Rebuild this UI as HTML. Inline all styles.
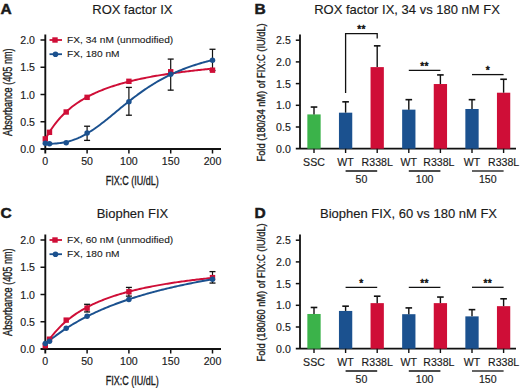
<!DOCTYPE html>
<html><head><meta charset="utf-8"><style>
html,body{margin:0;padding:0;background:#fff;}
svg{display:block;}
text{font-family:"Liberation Sans",sans-serif;fill:#1a1a1a;stroke:#1a1a1a;stroke-width:0.15px;}
</style></head><body>
<svg width="520" height="388" viewBox="0 0 520 388">
<text x="0.60" y="13.90" font-size="15.5" text-anchor="start" font-weight="700" style="stroke-width:0.5px">A</text>
<text x="132.40" y="14.40" font-size="13" text-anchor="middle" font-weight="400" >ROX factor IX</text>
<line x1="45.30" y1="34.50" x2="45.30" y2="153.50" stroke="#111" stroke-width="1.9"/>
<line x1="40.50" y1="149.00" x2="221.00" y2="149.00" stroke="#111" stroke-width="1.9"/>
<line x1="40.50" y1="121.75" x2="45.30" y2="121.75" stroke="#111" stroke-width="1.5"/>
<line x1="40.50" y1="94.50" x2="45.30" y2="94.50" stroke="#111" stroke-width="1.5"/>
<line x1="40.50" y1="67.25" x2="45.30" y2="67.25" stroke="#111" stroke-width="1.5"/>
<line x1="40.50" y1="40.00" x2="45.30" y2="40.00" stroke="#111" stroke-width="1.5"/>
<text transform="translate(35.00,153.00) scale(1.06,1)" font-size="10" text-anchor="end" font-weight="400" >0.0</text>
<text transform="translate(35.00,125.75) scale(1.06,1)" font-size="10" text-anchor="end" font-weight="400" >0.5</text>
<text transform="translate(35.00,98.50) scale(1.06,1)" font-size="10" text-anchor="end" font-weight="400" >1.0</text>
<text transform="translate(35.00,71.25) scale(1.06,1)" font-size="10" text-anchor="end" font-weight="400" >1.5</text>
<text transform="translate(35.00,44.00) scale(1.06,1)" font-size="10" text-anchor="end" font-weight="400" >2.0</text>
<line x1="87.10" y1="149.00" x2="87.10" y2="153.50" stroke="#111" stroke-width="1.5"/>
<line x1="128.90" y1="149.00" x2="128.90" y2="153.50" stroke="#111" stroke-width="1.5"/>
<line x1="170.70" y1="149.00" x2="170.70" y2="153.50" stroke="#111" stroke-width="1.5"/>
<line x1="212.50" y1="149.00" x2="212.50" y2="153.50" stroke="#111" stroke-width="1.5"/>
<text transform="translate(45.30,165.00) scale(1.06,1)" font-size="10" text-anchor="middle" font-weight="400" >0</text>
<text transform="translate(87.10,165.00) scale(1.06,1)" font-size="10" text-anchor="middle" font-weight="400" >50</text>
<text transform="translate(128.90,165.00) scale(1.06,1)" font-size="10" text-anchor="middle" font-weight="400" >100</text>
<text transform="translate(170.70,165.00) scale(1.06,1)" font-size="10" text-anchor="middle" font-weight="400" >150</text>
<text transform="translate(212.50,165.00) scale(1.06,1)" font-size="10" text-anchor="middle" font-weight="400" >200</text>
<text transform="translate(132.30,184.60) scale(0.71,1)" font-size="12.7" text-anchor="middle" style="stroke-width:0.35px">FIX:C (IU/dL)</text>
<text transform="translate(12.40,92.20) rotate(-90) scale(0.7,1)" font-size="13" text-anchor="middle" style="stroke-width:0.35px">Absorbance (405 nm)</text>
<line x1="49.50" y1="40.00" x2="62.00" y2="40.00" stroke="#cf0e37" stroke-width="1.8"/>
<rect x="52.30" y="37.30" width="5.40" height="5.40" fill="#cf0e37"/>
<text transform="translate(67.00,43.20) scale(1.13,1)" font-size="9" text-anchor="start" font-weight="400" style="stroke-width:0.1px">FX, 34 nM (unmodified)</text>
<line x1="49.50" y1="54.20" x2="62.00" y2="54.20" stroke="#1b518f" stroke-width="1.8"/>
<circle cx="55.5" cy="54.2" r="2.8" fill="#1b518f"/>
<text transform="translate(67.00,57.40) scale(1.13,1)" font-size="9" text-anchor="start" font-weight="400" style="stroke-width:0.1px">FX, 180 nM</text>
<line x1="87.10" y1="140.39" x2="87.10" y2="126.22" stroke="#111" stroke-width="1.2"/>
<line x1="84.10" y1="140.39" x2="90.10" y2="140.39" stroke="#111" stroke-width="1.3"/>
<line x1="84.10" y1="126.22" x2="90.10" y2="126.22" stroke="#111" stroke-width="1.3"/>
<line x1="128.90" y1="115.21" x2="128.90" y2="87.42" stroke="#111" stroke-width="1.2"/>
<line x1="125.90" y1="115.21" x2="131.90" y2="115.21" stroke="#111" stroke-width="1.3"/>
<line x1="125.90" y1="87.42" x2="131.90" y2="87.42" stroke="#111" stroke-width="1.3"/>
<line x1="170.70" y1="90.14" x2="170.70" y2="59.08" stroke="#111" stroke-width="1.2"/>
<line x1="167.70" y1="90.14" x2="173.70" y2="90.14" stroke="#111" stroke-width="1.3"/>
<line x1="167.70" y1="59.08" x2="173.70" y2="59.08" stroke="#111" stroke-width="1.3"/>
<line x1="212.50" y1="70.52" x2="212.50" y2="49.27" stroke="#111" stroke-width="1.2"/>
<line x1="209.50" y1="70.52" x2="215.50" y2="70.52" stroke="#111" stroke-width="1.3"/>
<line x1="209.50" y1="49.27" x2="215.50" y2="49.27" stroke="#111" stroke-width="1.3"/>
<path d="M45.30,139.27 L46.71,136.70 L48.11,134.27 L49.52,131.97 L50.92,129.78 L52.33,127.71 L53.73,125.74 L55.14,123.87 L56.54,122.08 L57.95,120.38 L59.35,118.76 L60.76,117.20 L62.16,115.71 L63.57,114.29 L64.97,112.92 L66.38,111.61 L67.78,110.35 L69.19,109.15 L70.59,107.98 L72.00,106.86 L73.40,105.78 L74.81,104.74 L76.21,103.74 L77.62,102.77 L79.02,101.84 L80.43,100.94 L81.83,100.06 L83.24,99.22 L84.64,98.40 L86.05,97.61 L87.45,96.84 L88.86,96.10 L90.26,95.38 L91.67,94.68 L93.07,94.00 L94.48,93.34 L95.88,92.70 L97.29,92.08 L98.69,91.47 L100.10,90.88 L101.50,90.31 L102.91,89.75 L104.31,89.20 L105.72,88.68 L107.12,88.16 L108.53,87.66 L109.93,87.17 L111.34,86.69 L112.74,86.22 L114.15,85.76 L115.55,85.32 L116.96,84.89 L118.36,84.46 L119.77,84.05 L121.17,83.64 L122.58,83.24 L123.98,82.86 L125.39,82.48 L126.79,82.11 L128.20,81.74 L129.60,81.39 L131.01,81.04 L132.41,80.70 L133.82,80.37 L135.22,80.04 L136.63,79.72 L138.03,79.41 L139.44,79.10 L140.84,78.80 L142.25,78.50 L143.65,78.21 L145.06,77.93 L146.46,77.65 L147.87,77.37 L149.27,77.11 L150.68,76.84 L152.08,76.58 L153.49,76.33 L154.89,76.08 L156.30,75.83 L157.70,75.59 L159.11,75.35 L160.51,75.12 L161.92,74.89 L163.32,74.67 L164.73,74.45 L166.13,74.23 L167.54,74.01 L168.94,73.80 L170.35,73.60 L171.75,73.39 L173.16,73.19 L174.56,72.99 L175.97,72.80 L177.37,72.61 L178.78,72.42 L180.18,72.23 L181.59,72.05 L182.99,71.87 L184.40,71.69 L185.80,71.52 L187.21,71.35 L188.61,71.18 L190.02,71.01 L191.42,70.85 L192.83,70.68 L194.23,70.52 L195.64,70.37 L197.04,70.21 L198.45,70.06 L199.85,69.91 L201.26,69.76 L202.66,69.61 L204.07,69.46 L205.47,69.32 L206.88,69.18 L208.28,69.04 L209.69,68.90 L211.09,68.77 L212.50,68.63" fill="none" stroke="#cf0e37" stroke-width="1.95"/>
<path d="M45.30,143.76 L46.71,143.76 L48.11,143.75 L49.52,143.73 L50.92,143.70 L52.33,143.66 L53.73,143.60 L55.14,143.52 L56.54,143.41 L57.95,143.29 L59.35,143.14 L60.76,142.96 L62.16,142.75 L63.57,142.51 L64.97,142.25 L66.38,141.95 L67.78,141.61 L69.19,141.25 L70.59,140.84 L72.00,140.41 L73.40,139.94 L74.81,139.43 L76.21,138.89 L77.62,138.31 L79.02,137.69 L80.43,137.04 L81.83,136.35 L83.24,135.63 L84.64,134.88 L86.05,134.09 L87.45,133.27 L88.86,132.42 L90.26,131.54 L91.67,130.63 L93.07,129.70 L94.48,128.74 L95.88,127.75 L97.29,126.74 L98.69,125.71 L100.10,124.66 L101.50,123.59 L102.91,122.50 L104.31,121.40 L105.72,120.29 L107.12,119.16 L108.53,118.03 L109.93,116.88 L111.34,115.73 L112.74,114.58 L114.15,113.42 L115.55,112.26 L116.96,111.10 L118.36,109.94 L119.77,108.78 L121.17,107.62 L122.58,106.47 L123.98,105.33 L125.39,104.19 L126.79,103.06 L128.20,101.94 L129.60,100.83 L131.01,99.73 L132.41,98.64 L133.82,97.56 L135.22,96.49 L136.63,95.44 L138.03,94.40 L139.44,93.38 L140.84,92.37 L142.25,91.37 L143.65,90.39 L145.06,89.43 L146.46,88.48 L147.87,87.55 L149.27,86.63 L150.68,85.73 L152.08,84.84 L153.49,83.97 L154.89,83.12 L156.30,82.28 L157.70,81.46 L159.11,80.66 L160.51,79.87 L161.92,79.10 L163.32,78.34 L164.73,77.60 L166.13,76.87 L167.54,76.16 L168.94,75.46 L170.35,74.78 L171.75,74.12 L173.16,73.46 L174.56,72.82 L175.97,72.20 L177.37,71.59 L178.78,70.99 L180.18,70.41 L181.59,69.83 L182.99,69.28 L184.40,68.73 L185.80,68.20 L187.21,67.67 L188.61,67.16 L190.02,66.66 L191.42,66.18 L192.83,65.70 L194.23,65.23 L195.64,64.78 L197.04,64.33 L198.45,63.90 L199.85,63.47 L201.26,63.05 L202.66,62.65 L204.07,62.25 L205.47,61.86 L206.88,61.48 L208.28,61.11 L209.69,60.75 L211.09,60.39 L212.50,60.05" fill="none" stroke="#1b518f" stroke-width="1.95"/>
<rect x="42.60" y="136.22" width="5.40" height="5.40" fill="#cf0e37"/>
<rect x="46.78" y="129.62" width="5.40" height="5.40" fill="#cf0e37"/>
<rect x="63.50" y="109.29" width="5.40" height="5.40" fill="#cf0e37"/>
<rect x="84.40" y="94.63" width="5.40" height="5.40" fill="#cf0e37"/>
<rect x="126.20" y="78.61" width="5.40" height="5.40" fill="#cf0e37"/>
<rect x="168.00" y="69.07" width="5.40" height="5.40" fill="#cf0e37"/>
<rect x="209.80" y="67.49" width="5.40" height="5.40" fill="#cf0e37"/>
<circle cx="45.30" cy="143.28" r="2.75" fill="#1b518f"/>
<circle cx="49.48" cy="143.77" r="2.75" fill="#1b518f"/>
<circle cx="66.20" cy="142.79" r="2.75" fill="#1b518f"/>
<circle cx="87.10" cy="132.98" r="2.75" fill="#1b518f"/>
<circle cx="128.90" cy="101.69" r="2.75" fill="#1b518f"/>
<circle cx="170.70" cy="74.33" r="2.75" fill="#1b518f"/>
<circle cx="212.50" cy="60.17" r="2.75" fill="#1b518f"/>
<text x="0.60" y="217.90" font-size="15.5" text-anchor="start" font-weight="700" style="stroke-width:0.5px">C</text>
<text x="132.40" y="218.40" font-size="13" text-anchor="middle" font-weight="400" >Biophen FIX</text>
<line x1="45.30" y1="234.50" x2="45.30" y2="353.50" stroke="#111" stroke-width="1.9"/>
<line x1="40.50" y1="349.00" x2="221.00" y2="349.00" stroke="#111" stroke-width="1.9"/>
<line x1="40.50" y1="321.75" x2="45.30" y2="321.75" stroke="#111" stroke-width="1.5"/>
<line x1="40.50" y1="294.50" x2="45.30" y2="294.50" stroke="#111" stroke-width="1.5"/>
<line x1="40.50" y1="267.25" x2="45.30" y2="267.25" stroke="#111" stroke-width="1.5"/>
<line x1="40.50" y1="240.00" x2="45.30" y2="240.00" stroke="#111" stroke-width="1.5"/>
<text transform="translate(35.00,353.00) scale(1.06,1)" font-size="10" text-anchor="end" font-weight="400" >0.0</text>
<text transform="translate(35.00,325.75) scale(1.06,1)" font-size="10" text-anchor="end" font-weight="400" >0.5</text>
<text transform="translate(35.00,298.50) scale(1.06,1)" font-size="10" text-anchor="end" font-weight="400" >1.0</text>
<text transform="translate(35.00,271.25) scale(1.06,1)" font-size="10" text-anchor="end" font-weight="400" >1.5</text>
<text transform="translate(35.00,244.00) scale(1.06,1)" font-size="10" text-anchor="end" font-weight="400" >2.0</text>
<line x1="87.10" y1="349.00" x2="87.10" y2="353.50" stroke="#111" stroke-width="1.5"/>
<line x1="128.90" y1="349.00" x2="128.90" y2="353.50" stroke="#111" stroke-width="1.5"/>
<line x1="170.70" y1="349.00" x2="170.70" y2="353.50" stroke="#111" stroke-width="1.5"/>
<line x1="212.50" y1="349.00" x2="212.50" y2="353.50" stroke="#111" stroke-width="1.5"/>
<text transform="translate(45.30,365.00) scale(1.06,1)" font-size="10" text-anchor="middle" font-weight="400" >0</text>
<text transform="translate(87.10,365.00) scale(1.06,1)" font-size="10" text-anchor="middle" font-weight="400" >50</text>
<text transform="translate(128.90,365.00) scale(1.06,1)" font-size="10" text-anchor="middle" font-weight="400" >100</text>
<text transform="translate(170.70,365.00) scale(1.06,1)" font-size="10" text-anchor="middle" font-weight="400" >150</text>
<text transform="translate(212.50,365.00) scale(1.06,1)" font-size="10" text-anchor="middle" font-weight="400" >200</text>
<text transform="translate(132.30,384.60) scale(0.71,1)" font-size="12.7" text-anchor="middle" style="stroke-width:0.35px">FIX:C (IU/dL)</text>
<text transform="translate(12.40,292.20) rotate(-90) scale(0.7,1)" font-size="13" text-anchor="middle" style="stroke-width:0.35px">Absorbance (405 nm)</text>
<line x1="49.50" y1="240.00" x2="62.00" y2="240.00" stroke="#cf0e37" stroke-width="1.8"/>
<rect x="52.30" y="237.30" width="5.40" height="5.40" fill="#cf0e37"/>
<text transform="translate(67.00,243.20) scale(1.13,1)" font-size="9" text-anchor="start" font-weight="400" style="stroke-width:0.1px">FX, 60 nM (unmodified)</text>
<line x1="49.50" y1="254.20" x2="62.00" y2="254.20" stroke="#1b518f" stroke-width="1.8"/>
<circle cx="55.5" cy="254.2" r="2.8" fill="#1b518f"/>
<text transform="translate(67.00,257.40) scale(1.13,1)" font-size="9" text-anchor="start" font-weight="400" style="stroke-width:0.1px">FX, 180 nM</text>
<line x1="87.10" y1="311.94" x2="87.10" y2="304.31" stroke="#111" stroke-width="1.2"/>
<line x1="84.10" y1="311.94" x2="90.10" y2="311.94" stroke="#111" stroke-width="1.3"/>
<line x1="84.10" y1="304.31" x2="90.10" y2="304.31" stroke="#111" stroke-width="1.3"/>
<line x1="128.90" y1="296.13" x2="128.90" y2="287.42" stroke="#111" stroke-width="1.2"/>
<line x1="125.90" y1="296.13" x2="131.90" y2="296.13" stroke="#111" stroke-width="1.3"/>
<line x1="125.90" y1="287.42" x2="131.90" y2="287.42" stroke="#111" stroke-width="1.3"/>
<line x1="212.50" y1="283.06" x2="212.50" y2="271.61" stroke="#111" stroke-width="1.2"/>
<line x1="209.50" y1="283.06" x2="215.50" y2="283.06" stroke="#111" stroke-width="1.3"/>
<line x1="209.50" y1="271.61" x2="215.50" y2="271.61" stroke="#111" stroke-width="1.3"/>
<path d="M45.30,345.41 L46.71,343.24 L48.11,341.18 L49.52,339.21 L50.92,337.32 L52.33,335.52 L53.73,333.80 L55.14,332.15 L56.54,330.56 L57.95,329.04 L59.35,327.58 L60.76,326.17 L62.16,324.82 L63.57,323.52 L64.97,322.26 L66.38,321.05 L67.78,319.89 L69.19,318.76 L70.59,317.67 L72.00,316.62 L73.40,315.60 L74.81,314.62 L76.21,313.66 L77.62,312.74 L79.02,311.84 L80.43,310.98 L81.83,310.13 L83.24,309.32 L84.64,308.52 L86.05,307.75 L87.45,307.00 L88.86,306.27 L90.26,305.57 L91.67,304.88 L93.07,304.21 L94.48,303.55 L95.88,302.92 L97.29,302.30 L98.69,301.69 L100.10,301.11 L101.50,300.53 L102.91,299.97 L104.31,299.42 L105.72,298.89 L107.12,298.37 L108.53,297.86 L109.93,297.36 L111.34,296.88 L112.74,296.40 L114.15,295.94 L115.55,295.48 L116.96,295.04 L118.36,294.60 L119.77,294.18 L121.17,293.76 L122.58,293.35 L123.98,292.96 L125.39,292.56 L126.79,292.18 L128.20,291.80 L129.60,291.44 L131.01,291.08 L132.41,290.72 L133.82,290.37 L135.22,290.03 L136.63,289.70 L138.03,289.37 L139.44,289.05 L140.84,288.73 L142.25,288.42 L143.65,288.12 L145.06,287.82 L146.46,287.53 L147.87,287.24 L149.27,286.95 L150.68,286.68 L152.08,286.40 L153.49,286.13 L154.89,285.87 L156.30,285.61 L157.70,285.35 L159.11,285.10 L160.51,284.85 L161.92,284.61 L163.32,284.37 L164.73,284.13 L166.13,283.90 L167.54,283.67 L168.94,283.45 L170.35,283.22 L171.75,283.01 L173.16,282.79 L174.56,282.58 L175.97,282.37 L177.37,282.16 L178.78,281.96 L180.18,281.76 L181.59,281.57 L182.99,281.37 L184.40,281.18 L185.80,280.99 L187.21,280.81 L188.61,280.62 L190.02,280.44 L191.42,280.27 L192.83,280.09 L194.23,279.92 L195.64,279.75 L197.04,279.58 L198.45,279.41 L199.85,279.25 L201.26,279.09 L202.66,278.93 L204.07,278.77 L205.47,278.61 L206.88,278.46 L208.28,278.31 L209.69,278.16 L211.09,278.01 L212.50,277.86" fill="none" stroke="#cf0e37" stroke-width="1.95"/>
<path d="M45.30,344.12 L46.71,342.91 L48.11,341.73 L49.52,340.58 L50.92,339.44 L52.33,338.33 L53.73,337.24 L55.14,336.17 L56.54,335.12 L57.95,334.10 L59.35,333.09 L60.76,332.10 L62.16,331.13 L63.57,330.17 L64.97,329.23 L66.38,328.31 L67.78,327.41 L69.19,326.52 L70.59,325.65 L72.00,324.79 L73.40,323.95 L74.81,323.12 L76.21,322.31 L77.62,321.51 L79.02,320.72 L80.43,319.95 L81.83,319.18 L83.24,318.44 L84.64,317.70 L86.05,316.97 L87.45,316.26 L88.86,315.56 L90.26,314.86 L91.67,314.18 L93.07,313.51 L94.48,312.85 L95.88,312.20 L97.29,311.56 L98.69,310.93 L100.10,310.31 L101.50,309.69 L102.91,309.09 L104.31,308.49 L105.72,307.91 L107.12,307.33 L108.53,306.76 L109.93,306.20 L111.34,305.64 L112.74,305.10 L114.15,304.56 L115.55,304.03 L116.96,303.50 L118.36,302.98 L119.77,302.47 L121.17,301.97 L122.58,301.47 L123.98,300.98 L125.39,300.50 L126.79,300.02 L128.20,299.55 L129.60,299.08 L131.01,298.62 L132.41,298.17 L133.82,297.72 L135.22,297.28 L136.63,296.84 L138.03,296.41 L139.44,295.98 L140.84,295.56 L142.25,295.14 L143.65,294.73 L145.06,294.33 L146.46,293.92 L147.87,293.53 L149.27,293.13 L150.68,292.75 L152.08,292.36 L153.49,291.98 L154.89,291.61 L156.30,291.24 L157.70,290.87 L159.11,290.51 L160.51,290.16 L161.92,289.80 L163.32,289.45 L164.73,289.11 L166.13,288.76 L167.54,288.42 L168.94,288.09 L170.35,287.76 L171.75,287.43 L173.16,287.11 L174.56,286.79 L175.97,286.47 L177.37,286.16 L178.78,285.84 L180.18,285.54 L181.59,285.23 L182.99,284.93 L184.40,284.63 L185.80,284.34 L187.21,284.05 L188.61,283.76 L190.02,283.47 L191.42,283.19 L192.83,282.91 L194.23,282.63 L195.64,282.35 L197.04,282.08 L198.45,281.81 L199.85,281.55 L201.26,281.28 L202.66,281.02 L204.07,280.76 L205.47,280.50 L206.88,280.25 L208.28,280.00 L209.69,279.75 L211.09,279.50 L212.50,279.25" fill="none" stroke="#1b518f" stroke-width="1.95"/>
<rect x="42.60" y="343.03" width="5.40" height="5.40" fill="#cf0e37"/>
<rect x="46.78" y="336.49" width="5.40" height="5.40" fill="#cf0e37"/>
<rect x="63.50" y="317.42" width="5.40" height="5.40" fill="#cf0e37"/>
<rect x="84.40" y="305.43" width="5.40" height="5.40" fill="#cf0e37"/>
<rect x="126.20" y="289.07" width="5.40" height="5.40" fill="#cf0e37"/>
<rect x="209.80" y="274.91" width="5.40" height="5.40" fill="#cf0e37"/>
<circle cx="45.30" cy="343.55" r="2.75" fill="#1b518f"/>
<circle cx="49.48" cy="341.37" r="2.75" fill="#1b518f"/>
<circle cx="66.20" cy="328.29" r="2.75" fill="#1b518f"/>
<circle cx="87.10" cy="316.30" r="2.75" fill="#1b518f"/>
<circle cx="128.90" cy="299.40" r="2.75" fill="#1b518f"/>
<circle cx="212.50" cy="279.24" r="2.75" fill="#1b518f"/>
<text x="254.40" y="13.90" font-size="15.5" text-anchor="start" font-weight="700" style="stroke-width:0.5px">B</text>
<text x="407.00" y="14.40" font-size="13" text-anchor="middle" font-weight="400" >ROX factor IX, 34 vs 180 nM FX</text>
<line x1="300.00" y1="34.50" x2="300.00" y2="148.70" stroke="#111" stroke-width="1.8"/>
<line x1="295.80" y1="148.70" x2="516.00" y2="148.70" stroke="#111" stroke-width="1.8"/>
<line x1="295.80" y1="127.00" x2="300.00" y2="127.00" stroke="#111" stroke-width="1.5"/>
<line x1="295.80" y1="105.30" x2="300.00" y2="105.30" stroke="#111" stroke-width="1.5"/>
<line x1="295.80" y1="83.60" x2="300.00" y2="83.60" stroke="#111" stroke-width="1.5"/>
<line x1="295.80" y1="61.90" x2="300.00" y2="61.90" stroke="#111" stroke-width="1.5"/>
<line x1="295.80" y1="40.20" x2="300.00" y2="40.20" stroke="#111" stroke-width="1.5"/>
<text transform="translate(290.80,152.70) scale(1.06,1)" font-size="10" text-anchor="end" font-weight="400" >0.0</text>
<text transform="translate(290.80,131.00) scale(1.06,1)" font-size="10" text-anchor="end" font-weight="400" >0.5</text>
<text transform="translate(290.80,109.30) scale(1.06,1)" font-size="10" text-anchor="end" font-weight="400" >1.0</text>
<text transform="translate(290.80,87.60) scale(1.06,1)" font-size="10" text-anchor="end" font-weight="400" >1.5</text>
<text transform="translate(290.80,65.90) scale(1.06,1)" font-size="10" text-anchor="end" font-weight="400" >2.0</text>
<text transform="translate(290.80,44.20) scale(1.06,1)" font-size="10" text-anchor="end" font-weight="400" >2.5</text>
<text transform="translate(265.30,92.40) rotate(-90) scale(0.8,1)" font-size="11.6" text-anchor="middle" style="stroke-width:0.35px">Fold (180/34 nM) of FIX:C (IU/dL)</text>
<rect x="307.35" y="114.41" width="13.30" height="34.29" fill="#3bb34a"/>
<line x1="314.00" y1="114.41" x2="314.00" y2="107.04" stroke="#111" stroke-width="1.4"/>
<line x1="310.70" y1="107.04" x2="317.30" y2="107.04" stroke="#111" stroke-width="1.6"/>
<line x1="314.00" y1="148.70" x2="314.00" y2="153.00" stroke="#111" stroke-width="1.4"/>
<text transform="translate(314.00,165.50) scale(1.06,1)" font-size="10" text-anchor="middle" font-weight="400" >SSC</text>
<rect x="338.95" y="112.68" width="13.30" height="36.02" fill="#1b518f"/>
<line x1="345.60" y1="112.68" x2="345.60" y2="101.83" stroke="#111" stroke-width="1.4"/>
<line x1="342.30" y1="101.83" x2="348.90" y2="101.83" stroke="#111" stroke-width="1.6"/>
<line x1="345.60" y1="148.70" x2="345.60" y2="153.00" stroke="#111" stroke-width="1.4"/>
<text transform="translate(345.60,165.50) scale(1.06,1)" font-size="10" text-anchor="middle" font-weight="400" >WT</text>
<rect x="370.55" y="67.11" width="13.30" height="81.59" fill="#cf0e37"/>
<line x1="377.20" y1="67.11" x2="377.20" y2="45.84" stroke="#111" stroke-width="1.4"/>
<line x1="373.90" y1="45.84" x2="380.50" y2="45.84" stroke="#111" stroke-width="1.6"/>
<line x1="377.20" y1="148.70" x2="377.20" y2="153.00" stroke="#111" stroke-width="1.4"/>
<text transform="translate(377.20,165.50) scale(1.06,1)" font-size="10" text-anchor="middle" font-weight="400" >R338L</text>
<rect x="402.15" y="109.64" width="13.30" height="39.06" fill="#1b518f"/>
<line x1="408.80" y1="109.64" x2="408.80" y2="99.66" stroke="#111" stroke-width="1.4"/>
<line x1="405.50" y1="99.66" x2="412.10" y2="99.66" stroke="#111" stroke-width="1.6"/>
<line x1="408.80" y1="148.70" x2="408.80" y2="153.00" stroke="#111" stroke-width="1.4"/>
<text transform="translate(408.80,165.50) scale(1.06,1)" font-size="10" text-anchor="middle" font-weight="400" >WT</text>
<rect x="433.75" y="84.03" width="13.30" height="64.67" fill="#cf0e37"/>
<line x1="440.40" y1="84.03" x2="440.40" y2="74.92" stroke="#111" stroke-width="1.4"/>
<line x1="437.10" y1="74.92" x2="443.70" y2="74.92" stroke="#111" stroke-width="1.6"/>
<line x1="440.40" y1="148.70" x2="440.40" y2="153.00" stroke="#111" stroke-width="1.4"/>
<text transform="translate(438.90,165.50) scale(1.06,1)" font-size="10" text-anchor="middle" font-weight="400" >R338L</text>
<rect x="465.35" y="108.99" width="13.30" height="39.71" fill="#1b518f"/>
<line x1="472.00" y1="108.99" x2="472.00" y2="99.66" stroke="#111" stroke-width="1.4"/>
<line x1="468.70" y1="99.66" x2="475.30" y2="99.66" stroke="#111" stroke-width="1.6"/>
<line x1="472.00" y1="148.70" x2="472.00" y2="153.00" stroke="#111" stroke-width="1.4"/>
<text transform="translate(472.00,165.50) scale(1.06,1)" font-size="10" text-anchor="middle" font-weight="400" >WT</text>
<rect x="496.95" y="92.71" width="13.30" height="55.99" fill="#cf0e37"/>
<line x1="503.60" y1="92.71" x2="503.60" y2="79.26" stroke="#111" stroke-width="1.4"/>
<line x1="500.30" y1="79.26" x2="506.90" y2="79.26" stroke="#111" stroke-width="1.6"/>
<line x1="503.60" y1="148.70" x2="503.60" y2="153.00" stroke="#111" stroke-width="1.4"/>
<text transform="translate(503.60,165.50) scale(1.06,1)" font-size="10" text-anchor="middle" font-weight="400" >R338L</text>
<line x1="345.60" y1="171.00" x2="377.20" y2="171.00" stroke="#111" stroke-width="1.3"/>
<text transform="translate(361.40,183.20) scale(1.06,1)" font-size="10" text-anchor="middle" font-weight="400" >50</text>
<line x1="408.80" y1="171.00" x2="440.40" y2="171.00" stroke="#111" stroke-width="1.3"/>
<text transform="translate(424.60,183.20) scale(1.06,1)" font-size="10" text-anchor="middle" font-weight="400" >100</text>
<line x1="472.00" y1="171.00" x2="503.60" y2="171.00" stroke="#111" stroke-width="1.3"/>
<text transform="translate(487.80,183.20) scale(1.06,1)" font-size="10" text-anchor="middle" font-weight="400" >150</text>
<text x="361.40" y="32.80" font-size="10.2" text-anchor="middle" font-weight="400" style="stroke-width:0.55px;letter-spacing:0.3px">**</text>
<line x1="408.80" y1="70.40" x2="440.40" y2="70.40" stroke="#111" stroke-width="1.3"/>
<text x="424.60" y="69.90" font-size="10.2" text-anchor="middle" font-weight="400" style="stroke-width:0.55px;letter-spacing:0.3px">**</text>
<line x1="472.00" y1="74.60" x2="503.60" y2="74.60" stroke="#111" stroke-width="1.3"/>
<text x="487.80" y="74.10" font-size="10.2" text-anchor="middle" font-weight="400" style="stroke-width:0.55px;letter-spacing:0.3px">*</text>
<text x="254.40" y="217.90" font-size="15.5" text-anchor="start" font-weight="700" style="stroke-width:0.5px">D</text>
<text x="408.50" y="218.40" font-size="13" text-anchor="middle" font-weight="400" >Biophen FIX, 60 vs 180 nM FX</text>
<line x1="300.00" y1="234.50" x2="300.00" y2="348.70" stroke="#111" stroke-width="1.8"/>
<line x1="295.80" y1="348.70" x2="516.00" y2="348.70" stroke="#111" stroke-width="1.8"/>
<line x1="295.80" y1="327.00" x2="300.00" y2="327.00" stroke="#111" stroke-width="1.5"/>
<line x1="295.80" y1="305.30" x2="300.00" y2="305.30" stroke="#111" stroke-width="1.5"/>
<line x1="295.80" y1="283.60" x2="300.00" y2="283.60" stroke="#111" stroke-width="1.5"/>
<line x1="295.80" y1="261.90" x2="300.00" y2="261.90" stroke="#111" stroke-width="1.5"/>
<line x1="295.80" y1="240.20" x2="300.00" y2="240.20" stroke="#111" stroke-width="1.5"/>
<text transform="translate(290.80,352.70) scale(1.06,1)" font-size="10" text-anchor="end" font-weight="400" >0.0</text>
<text transform="translate(290.80,331.00) scale(1.06,1)" font-size="10" text-anchor="end" font-weight="400" >0.5</text>
<text transform="translate(290.80,309.30) scale(1.06,1)" font-size="10" text-anchor="end" font-weight="400" >1.0</text>
<text transform="translate(290.80,287.60) scale(1.06,1)" font-size="10" text-anchor="end" font-weight="400" >1.5</text>
<text transform="translate(290.80,265.90) scale(1.06,1)" font-size="10" text-anchor="end" font-weight="400" >2.0</text>
<text transform="translate(290.80,244.20) scale(1.06,1)" font-size="10" text-anchor="end" font-weight="400" >2.5</text>
<text transform="translate(265.30,292.40) rotate(-90) scale(0.8,1)" font-size="11.6" text-anchor="middle" style="stroke-width:0.35px">Fold (180/60 nM) of FIX:C (IU/dL)</text>
<rect x="307.35" y="313.98" width="13.30" height="34.72" fill="#3bb34a"/>
<line x1="314.00" y1="313.98" x2="314.00" y2="307.47" stroke="#111" stroke-width="1.4"/>
<line x1="310.70" y1="307.47" x2="317.30" y2="307.47" stroke="#111" stroke-width="1.6"/>
<line x1="314.00" y1="348.70" x2="314.00" y2="353.00" stroke="#111" stroke-width="1.4"/>
<text transform="translate(314.00,365.50) scale(1.06,1)" font-size="10" text-anchor="middle" font-weight="400" >SSC</text>
<rect x="338.95" y="310.94" width="13.30" height="37.76" fill="#1b518f"/>
<line x1="345.60" y1="310.94" x2="345.60" y2="306.17" stroke="#111" stroke-width="1.4"/>
<line x1="342.30" y1="306.17" x2="348.90" y2="306.17" stroke="#111" stroke-width="1.6"/>
<line x1="345.60" y1="348.70" x2="345.60" y2="353.00" stroke="#111" stroke-width="1.4"/>
<text transform="translate(345.60,365.50) scale(1.06,1)" font-size="10" text-anchor="middle" font-weight="400" >WT</text>
<rect x="370.55" y="303.13" width="13.30" height="45.57" fill="#cf0e37"/>
<line x1="377.20" y1="303.13" x2="377.20" y2="296.19" stroke="#111" stroke-width="1.4"/>
<line x1="373.90" y1="296.19" x2="380.50" y2="296.19" stroke="#111" stroke-width="1.6"/>
<line x1="377.20" y1="348.70" x2="377.20" y2="353.00" stroke="#111" stroke-width="1.4"/>
<text transform="translate(377.20,365.50) scale(1.06,1)" font-size="10" text-anchor="middle" font-weight="400" >R338L</text>
<rect x="402.15" y="314.20" width="13.30" height="34.50" fill="#1b518f"/>
<line x1="408.80" y1="314.20" x2="408.80" y2="307.90" stroke="#111" stroke-width="1.4"/>
<line x1="405.50" y1="307.90" x2="412.10" y2="307.90" stroke="#111" stroke-width="1.6"/>
<line x1="408.80" y1="348.70" x2="408.80" y2="353.00" stroke="#111" stroke-width="1.4"/>
<text transform="translate(408.80,365.50) scale(1.06,1)" font-size="10" text-anchor="middle" font-weight="400" >WT</text>
<rect x="433.75" y="303.13" width="13.30" height="45.57" fill="#cf0e37"/>
<line x1="440.40" y1="303.13" x2="440.40" y2="297.05" stroke="#111" stroke-width="1.4"/>
<line x1="437.10" y1="297.05" x2="443.70" y2="297.05" stroke="#111" stroke-width="1.6"/>
<line x1="440.40" y1="348.70" x2="440.40" y2="353.00" stroke="#111" stroke-width="1.4"/>
<text transform="translate(438.90,365.50) scale(1.06,1)" font-size="10" text-anchor="middle" font-weight="400" >R338L</text>
<rect x="465.35" y="316.37" width="13.30" height="32.33" fill="#1b518f"/>
<line x1="472.00" y1="316.37" x2="472.00" y2="309.64" stroke="#111" stroke-width="1.4"/>
<line x1="468.70" y1="309.64" x2="475.30" y2="309.64" stroke="#111" stroke-width="1.6"/>
<line x1="472.00" y1="348.70" x2="472.00" y2="353.00" stroke="#111" stroke-width="1.4"/>
<text transform="translate(472.00,365.50) scale(1.06,1)" font-size="10" text-anchor="middle" font-weight="400" >WT</text>
<rect x="496.95" y="306.17" width="13.30" height="42.53" fill="#cf0e37"/>
<line x1="503.60" y1="306.17" x2="503.60" y2="298.79" stroke="#111" stroke-width="1.4"/>
<line x1="500.30" y1="298.79" x2="506.90" y2="298.79" stroke="#111" stroke-width="1.6"/>
<line x1="503.60" y1="348.70" x2="503.60" y2="353.00" stroke="#111" stroke-width="1.4"/>
<text transform="translate(503.60,365.50) scale(1.06,1)" font-size="10" text-anchor="middle" font-weight="400" >R338L</text>
<line x1="345.60" y1="371.00" x2="377.20" y2="371.00" stroke="#111" stroke-width="1.3"/>
<text transform="translate(361.40,383.20) scale(1.06,1)" font-size="10" text-anchor="middle" font-weight="400" >50</text>
<line x1="408.80" y1="371.00" x2="440.40" y2="371.00" stroke="#111" stroke-width="1.3"/>
<text transform="translate(424.60,383.20) scale(1.06,1)" font-size="10" text-anchor="middle" font-weight="400" >100</text>
<line x1="472.00" y1="371.00" x2="503.60" y2="371.00" stroke="#111" stroke-width="1.3"/>
<text transform="translate(487.80,383.20) scale(1.06,1)" font-size="10" text-anchor="middle" font-weight="400" >150</text>
<line x1="345.60" y1="287.30" x2="377.20" y2="287.30" stroke="#111" stroke-width="1.3"/>
<text x="361.40" y="286.80" font-size="10.2" text-anchor="middle" font-weight="400" style="stroke-width:0.55px;letter-spacing:0.3px">*</text>
<line x1="408.80" y1="287.30" x2="440.40" y2="287.30" stroke="#111" stroke-width="1.3"/>
<text x="424.60" y="286.80" font-size="10.2" text-anchor="middle" font-weight="400" style="stroke-width:0.55px;letter-spacing:0.3px">**</text>
<line x1="472.00" y1="287.30" x2="503.60" y2="287.30" stroke="#111" stroke-width="1.3"/>
<text x="487.80" y="286.80" font-size="10.2" text-anchor="middle" font-weight="400" style="stroke-width:0.55px;letter-spacing:0.3px">**</text>
<path d="M345.6,93.1 V33.6 H377.2 V38.5" fill="none" stroke="#111" stroke-width="1.3" stroke-linejoin="miter"/>
</svg></body></html>
